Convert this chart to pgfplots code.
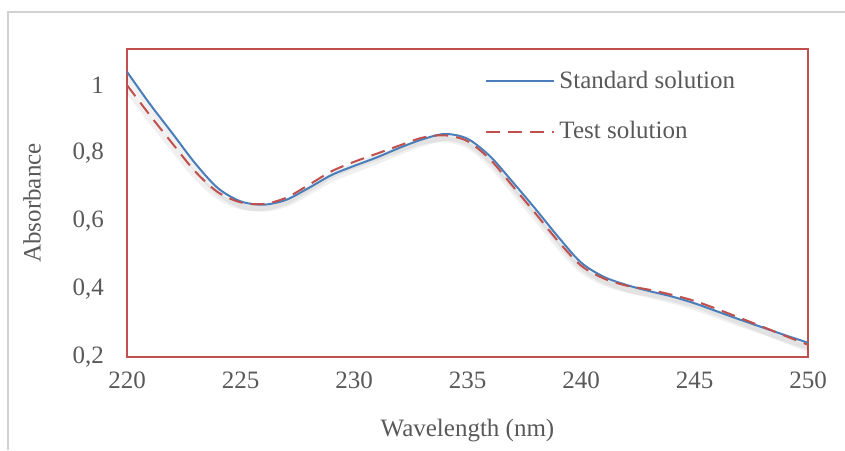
\documentclass[border=0pt]{standalone}
\usepackage{pgfplots}
\pgfplotsset{compat=1.18}
\usepackage{fontspec}
\setmainfont{Liberation Serif}
\definecolor{txt}{HTML}{595959}
\definecolor{frame}{HTML}{C0504D}
\definecolor{blu}{HTML}{4A7EBB}
\definecolor{rd}{HTML}{C0504D}
\pgfplotstableread{
x y
220 1.039
221 0.945
222 0.858
223 0.770
224 0.697
225 0.658
226 0.648
227 0.662
228 0.697
229 0.735
230 0.762
231 0.787
232 0.815
233 0.840
234 0.856
235 0.842
236 0.790
237 0.714
238 0.635
239 0.553
240 0.478
241 0.436
242 0.412
243 0.394
244 0.378
245 0.358
246 0.334
247 0.310
248 0.287
249 0.264
250 0.242
}\standard
\pgfplotstableread{
x y
220 1.000
221 0.912
222 0.828
223 0.746
224 0.685
225 0.655
226 0.650
227 0.668
228 0.706
229 0.746
230 0.774
231 0.798
232 0.822
233 0.845
234 0.852
235 0.835
236 0.781
237 0.702
238 0.622
239 0.540
240 0.469
241 0.431
242 0.410
243 0.398
244 0.383
245 0.365
246 0.341
247 0.315
248 0.289
249 0.262
250 0.236
}\test
\begin{document}
\begin{tikzpicture}
\path[use as bounding box] (0,0) rectangle (422.5pt,225pt);
\draw[black!18, line width=0.6pt] (4pt,0) -- (4pt,219pt) -- (422.5pt,219pt);
\begin{axis}[
  at={(63.5pt,46.5pt)}, anchor=south west,
  scale only axis, width=340.5pt, height=154pt,
  xmin=220, xmax=250, ymin=0.2, ymax=1.106,
  xtick={220,225,...,250},
  ytick={0.2,0.4,0.6,0.8,1},
  major tick length=0pt,
  axis line style={frame, line width=0.7pt},
  /pgf/number format/assume math mode=true,
  /pgf/number format/.cd, use comma, fixed, 1000 sep={},
  /pgfplots/.cd,
  tick label style={font=\fontsize{12.5}{14}\selectfont, text=txt},
  xticklabel style={yshift=-4pt},
  yticklabel style={xshift=-8pt},
  xlabel={Wavelength (nm)}, ylabel={Absorbance},
  label style={font=\fontsize{12.5}{14}\selectfont, text=txt},
  xlabel style={yshift=-8pt},
  ylabel style={yshift=9pt},
  legend style={at={(0.517,0.955)}, anchor=north west, draw=none, fill=none,
    font=\fontsize{12.5}{14}\selectfont, text=txt, row sep=11pt,
    /tikz/every even column/.append style={column sep=3pt}},
  legend cell align=left,
  legend image code/.code={\draw[#1] (0pt,0pt) -- (34pt,0pt);},
]
\addplot[forget plot, black, opacity=0.06, line width=3pt, smooth, yshift=-2pt] table {\standard};
\addplot[forget plot, black, opacity=0.06, line width=3pt, smooth, yshift=-2pt] table {\test};
\addplot[blu, line width=1pt, smooth] table {\standard};
\addlegendentry{Standard solution}
\addplot[rd, line width=1pt, smooth, dash pattern=on 7pt off 4pt] table {\test};
\addlegendentry{Test solution}
\end{axis}
\end{tikzpicture}
\end{document}
